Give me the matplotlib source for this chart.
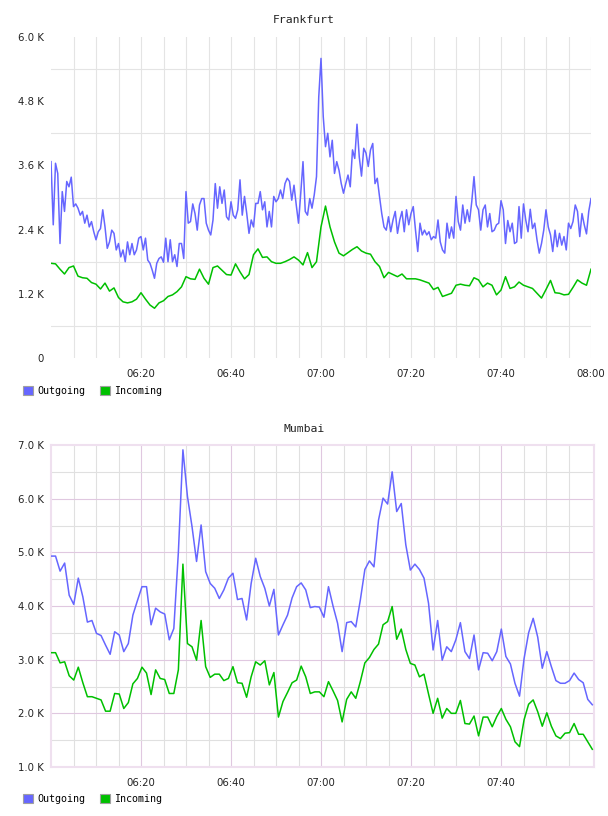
import numpy as np
import matplotlib
matplotlib.use("Agg")
import matplotlib.pyplot as plt
from matplotlib.patches import Patch

# ---------------- data (values in thousands) ----------------
series_names = ["Outgoing", "Incoming"]
series_colors = ["#6666ff", "#00c000"]

# Frankfurt: outgoing every 30 s, incoming every 60 s, from 06:00
fra_out_step_s = 30
fra_in_step_s = 60
fra_outgoing = [
    3.67, 2.49, 3.64, 3.45, 2.14, 3.11, 2.74, 3.30, 3.20, 3.38,
    2.83, 2.88, 2.80, 2.67, 2.74, 2.52, 2.67, 2.45, 2.55, 2.36,
    2.21, 2.36, 2.42, 2.77, 2.45, 2.05, 2.17, 2.39, 2.33, 2.02,
    2.14, 1.89, 2.02, 1.80, 2.17, 1.93, 2.14, 1.93, 2.02, 2.24,
    2.27, 2.02, 2.24, 1.83, 1.77, 1.64, 1.49, 1.77, 1.86, 1.89,
    1.79, 2.24, 1.80, 2.21, 1.80, 1.93, 1.71, 2.14, 2.14, 1.86,
    3.11,
    2.52, 2.55, 2.88, 2.70, 2.39, 2.86, 2.98, 2.98, 2.52, 2.39,
    2.30, 2.58, 3.26, 2.80, 3.20, 2.89, 3.14, 2.64, 2.58, 2.92,
    2.67, 2.61, 2.77, 3.33, 2.67, 3.02, 2.70, 2.33, 2.58, 2.45,
    2.89, 2.89, 3.11, 2.77, 2.92, 2.45, 2.74, 2.45, 3.02, 2.92,
    2.98, 3.14, 2.98, 3.26, 3.36, 3.30, 2.95, 3.23, 2.86, 2.52,
    3.08, 3.67, 2.74, 2.67, 2.98, 2.80, 3.05, 3.39, 4.88,
    5.60,
    4.51, 3.95, 4.20, 3.76, 4.07, 3.45, 3.67, 3.51, 3.26, 3.08,
    3.26, 3.42, 3.20, 3.89, 3.73, 4.37, 3.76, 3.40, 3.92, 3.83,
    3.58, 3.89, 4.01, 3.26, 3.36, 3.02, 2.70, 2.45, 2.39, 2.64,
    2.36, 2.58, 2.74, 2.33, 2.58, 2.74, 2.36, 2.77, 2.49, 2.70,
    2.83, 2.39, 1.99, 2.52, 2.30, 2.39, 2.30, 2.36, 2.21, 2.27,
    2.24, 2.58, 2.17, 2.02, 1.96, 2.52, 2.24, 2.45, 2.24, 3.02,
    2.55, 2.39, 2.86, 2.52, 2.77, 2.55, 2.92, 3.39, 2.86, 2.77,
    2.39, 2.77, 2.86, 2.45, 2.70, 2.36, 2.39, 2.49, 2.52, 2.94,
    2.77, 2.14, 2.57, 2.36, 2.52, 2.14, 2.17, 2.83, 2.24, 2.88,
    2.58, 2.36, 2.78, 2.42, 2.52, 2.21, 1.96, 2.14, 2.39, 2.77,
    2.45, 2.30, 1.99, 2.39, 2.08, 2.33, 2.11, 2.27, 2.02, 2.52,
    2.42, 2.55, 2.86, 2.74, 2.27, 2.70, 2.49, 2.32, 2.74, 2.98,
]
fra_incoming = [
    1.77, 1.76, 1.66, 1.57, 1.69, 1.72, 1.53, 1.50, 1.49, 1.41,
    1.38, 1.29, 1.40, 1.25, 1.31, 1.13, 1.05, 1.03, 1.05, 1.10,
    1.22, 1.10, 0.99, 0.93, 1.03, 1.07, 1.15, 1.18, 1.24, 1.33,
    1.52, 1.48, 1.47, 1.66, 1.49, 1.38, 1.69, 1.72, 1.64, 1.56,
    1.55, 1.76, 1.61, 1.48, 1.56, 1.93, 2.04, 1.88, 1.89, 1.80,
    1.77, 1.77, 1.80, 1.84, 1.89, 1.83, 1.74, 1.97, 1.69, 1.80,
    2.45, 2.84, 2.45, 2.17, 1.96, 1.91, 1.97, 2.03, 2.08, 2.00,
    1.96, 1.94, 1.80, 1.71, 1.50, 1.60, 1.56, 1.52, 1.57, 1.48,
    1.48, 1.48, 1.46, 1.43, 1.40, 1.28, 1.32, 1.15, 1.18, 1.21,
    1.36, 1.38, 1.36, 1.35, 1.50, 1.46, 1.33, 1.40, 1.36, 1.18,
    1.27, 1.52, 1.30, 1.33, 1.42, 1.36, 1.33, 1.30, 1.21, 1.12,
    1.28, 1.45, 1.22, 1.21, 1.18, 1.19, 1.32, 1.46, 1.40, 1.36,
    1.66,
]

# Mumbai: both series about every 60.65 s, from 06:00
mum_step_s = 60.65
mum_outgoing = [
    4.93, 4.93, 4.65, 4.80, 4.20, 4.03, 4.52, 4.17, 3.70, 3.73,
    3.49, 3.45, 3.27, 3.10, 3.52, 3.46, 3.15, 3.30, 3.83, 4.10,
    4.36, 4.36, 3.65, 3.96, 3.89, 3.85, 3.37, 3.58, 5.00, 6.91,
    6.04, 5.48, 4.83, 5.51, 4.64, 4.42, 4.33, 4.14, 4.30, 4.52,
    4.61, 4.12, 4.14, 3.74, 4.42, 4.89, 4.55, 4.33, 4.00, 4.31,
    3.46, 3.65, 3.83, 4.15, 4.36, 4.43, 4.30, 3.97, 3.99, 3.98,
    3.79, 4.36, 4.00, 3.68, 3.15, 3.69, 3.71, 3.61, 4.11, 4.68,
    4.84, 4.73, 5.60, 6.01, 5.90, 6.50, 5.76, 5.91, 5.14, 4.67,
    4.78, 4.68, 4.52, 4.05, 3.18, 3.73, 2.99, 3.24, 3.15, 3.37,
    3.69, 3.15, 3.02, 3.46, 2.81, 3.13, 3.12, 2.98, 3.15, 3.57,
    3.06, 2.92, 2.56, 2.32, 3.02, 3.50, 3.77, 3.42, 2.84, 3.15,
    2.87, 2.61, 2.56, 2.56, 2.61, 2.75, 2.63, 2.57, 2.26, 2.16,
]
mum_incoming = [
    3.13, 3.13, 2.94, 2.96, 2.70, 2.62, 2.86, 2.57, 2.31, 2.31,
    2.28, 2.25, 2.04, 2.04, 2.37, 2.36, 2.09, 2.20, 2.55, 2.65,
    2.86, 2.75, 2.35, 2.81, 2.65, 2.63, 2.37, 2.37, 2.81, 4.78,
    3.30, 3.24, 2.99, 3.73, 2.87, 2.67, 2.73, 2.73, 2.61, 2.65,
    2.87, 2.57, 2.56, 2.30, 2.68, 2.96, 2.90, 2.98, 2.53, 2.76,
    1.93, 2.22, 2.39, 2.57, 2.62, 2.88, 2.68, 2.37, 2.40, 2.40,
    2.31, 2.59, 2.42, 2.24, 1.84, 2.26, 2.40, 2.28, 2.59, 2.94,
    3.04, 3.19, 3.29, 3.65, 3.71, 3.99, 3.38, 3.57, 3.19, 2.93,
    2.90, 2.68, 2.73, 2.36, 2.00, 2.28, 1.91, 2.09, 2.00, 2.00,
    2.24, 1.81, 1.80, 1.95, 1.58, 1.93, 1.93, 1.75, 1.94, 2.09,
    1.89, 1.75, 1.47, 1.38, 1.88, 2.17, 2.25, 2.03, 1.76, 2.01,
    1.76, 1.58, 1.53, 1.63, 1.64, 1.81, 1.61, 1.61, 1.47, 1.33,
]

start_time = "06:00"
fra_x_labels = ["06:20", "06:40", "07:00", "07:20", "07:40", "08:00"]
mum_x_labels = ["06:20", "06:40", "07:00", "07:20", "07:40"]
fra_y_ticks = [0, 1.2, 2.4, 3.6, 4.8, 6.0]
mum_y_ticks = [1.0, 2.0, 3.0, 4.0, 5.0, 6.0, 7.0]
titles = ["Frankfurt", "Mumbai"]


def to_min(s):
    h, m = s.split(":")
    return int(h) * 60 + int(m)


def label_positions(labels):
    return [to_min(l) - to_min(start_time) for l in labels]


def ylab(v):
    return "0" if v == 0 else f"{v:.1f} K"


# ---------------- figure ----------------
W, H = 608, 816
fig = plt.figure(figsize=(W / 100, H / 100), dpi=100)
fig.patch.set_facecolor("white")

tick_font = dict(family="DejaVu Sans", size=7.3)
mono = "DejaVu Sans Mono"


def px_axes(l, t, r, b):
    return fig.add_axes([l / W, 1 - b / H, (r - l) / W, (b - t) / H])


def style_common(ax, xlab, yt):
    xt = label_positions(xlab)
    ax.set_xticks(xt)
    ax.set_xticklabels(xlab, color="#222222", **tick_font)
    ax.set_yticks(yt)
    ax.set_yticklabels([ylab(v) for v in yt], color="#222222", **tick_font)
    ax.tick_params(axis="both", which="both", length=0)
    ax.tick_params(axis="x", pad=8)
    ax.tick_params(axis="y", pad=5)
    ax.set_axisbelow(True)


def legend(y_top_px):
    handles = [Patch(facecolor=c, edgecolor="#a0a0a0", linewidth=0.8, label=n)
               for n, c in zip(series_names, series_colors)]
    fig.legend(handles=handles, loc="upper left",
               bbox_to_anchor=(23 / W, 1 - y_top_px / H), ncol=2,
               frameon=False, borderpad=0, borderaxespad=0,
               handlelength=1.0, handleheight=1.0, handletextpad=0.45,
               columnspacing=1.45, prop=dict(family=mono, size=7.2))


def title(text, y_px):
    fig.text(0.5, 1 - y_px / H, text, ha="center", va="center",
             family=mono, size=8.2, color="#222222")


# ---- Frankfurt ----
ax1 = px_axes(51, 37, 591, 358)
t_out = np.arange(len(fra_outgoing)) * fra_out_step_s / 60
t_in = np.arange(len(fra_incoming)) * fra_in_step_s / 60
ax1.plot(t_out, fra_outgoing, color=series_colors[0], lw=1.1, zorder=3)
ax1.plot(t_in, fra_incoming, color=series_colors[1], lw=1.1, zorder=3)
ax1.set_xlim(0, 120)
ax1.set_ylim(0, 6.0)
style_common(ax1, fra_x_labels, fra_y_ticks)
for s in ax1.spines.values():
    s.set_visible(False)
grid_c = "#e4e4e4"
for x in range(5, 121, 5):
    ax1.axvline(x, color=grid_c, lw=0.8, zorder=1)
for y in np.arange(0.6, 6.0, 1.2):
    ax1.axhline(y, color=grid_c, lw=0.8, zorder=1)
title(titles[0], 20)
legend(386)

# ---- Mumbai ----
ax2 = px_axes(51, 445, 594, 767)
t_m = np.arange(len(mum_outgoing)) * mum_step_s / 60
ax2.plot(t_m, mum_outgoing, color=series_colors[0], lw=1.1, zorder=3)
ax2.plot(t_m, mum_incoming, color=series_colors[1], lw=1.1, zorder=3)
ax2.set_xlim(0, (594 - 51) / 4.5)
ax2.set_ylim(1.0, 7.0)
style_common(ax2, mum_x_labels, mum_y_ticks)
major_c = "#e0c8e0"
minor_c = "#e0e0e0"
major_x = label_positions(mum_x_labels)
for x in range(5, 120, 5):
    ax2.axvline(x, color=major_c if x in major_x else minor_c, lw=0.8, zorder=1)
for y in np.arange(1.5, 7.0, 0.5):
    ax2.axhline(y, color=major_c if abs(y - round(y)) < 1e-6 else minor_c,
                lw=0.8, zorder=1)
for s in ax2.spines.values():
    s.set_color("#efe0ef")
    s.set_linewidth(1.5)
title(titles[1], 429)
legend(794)

fig.savefig("out.png", dpi=100, facecolor="white")
